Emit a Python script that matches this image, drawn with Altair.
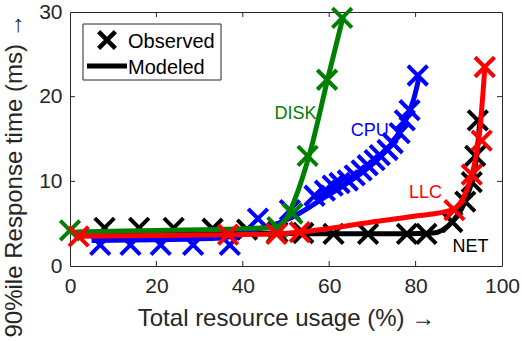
import altair as alt
import pandas as pd

FONT = "Liberation Sans"
AX = "#262626"
XPATH = "M-1,-1L1,1M1,-1L-1,1"

# ---- data ----
net_obs_x = [8, 16, 24, 33, 41, 48, 54, 61, 69, 78, 82.5, 88.5, 91.5, 93.0, 93.8, 94.4]
net_obs_y = [4.5, 4.5, 4.5, 4.4, 4.3, 4.0, 3.9, 3.8, 3.8, 3.8, 3.8, 5.2, 7.6, 9.9, 13.0, 17.2]
net_mod_x = [2, 20, 40, 60, 74, 84, 88.6, 91.8, 94.1, 94.8]
net_mod_y = [4.0, 4.0, 3.9, 3.8, 3.8, 3.9, 5.3, 8.1, 12.8, 16.8]

cpu_obs_x = [7, 14, 21, 28.5, 37, 43.5, 50.9, 56.6, 59.0, 60.8, 62.4, 64.3, 65.9, 67.5,
             68.9, 70.5, 71.7, 73.5, 74.7, 76.3, 77.5, 78.6, 80.5]
cpu_obs_y = [2.5, 2.5, 2.5, 2.5, 2.5, 5.6, 6.6, 8.3, 8.9, 9.5, 9.8, 10.1, 10.7, 11.3,
             11.9, 12.5, 13.1, 13.7, 14.5, 15.7, 17.2, 18.4, 22.5]
cpu_mod_x = [5, 20, 35, 42, 48, 53, 58, 63, 67, 71, 74.5, 77.5, 79.5, 80.8]
cpu_mod_y = [3.0, 3.1, 3.3, 4.2, 5.0, 6.2, 7.8, 9.4, 10.8, 12.5, 14.5, 17.0, 19.6, 22.3]

disk_obs_x = [0, 48, 51.5, 55, 59.5, 63]
disk_obs_y = [4.2, 4.6, 6.2, 13.0, 22.0, 29.3]
disk_mod_x = [0, 20, 40, 48, 50, 52, 55.5, 59.7, 63.3]
disk_mod_y = [4.0, 4.2, 4.4, 4.6, 5.5, 7.8, 13.3, 22.2, 29.6]

llc_obs_x = [2, 36.6, 47.8, 53.2, 89, 93, 95.3, 96]
llc_obs_y = [3.5, 3.7, 3.8, 4.0, 6.6, 10.8, 14.8, 23.5]
llc_mod_x = [2, 37, 48, 53, 70, 80, 88.3, 91.8, 93.3, 94.8, 96]
llc_mod_y = [3.5, 3.7, 3.8, 4.0, 5.2, 5.9, 6.6, 8.9, 11.3, 15.7, 23.2]

series_names = ["NET", "CPU", "DISK", "LLC"]
series_colors = ["#000000", "#0000ff", "#008000", "#ff0000"]
label_x = [92.7, 69.4, 52.2, 82.3]
label_y = [2.3, 16.0, 18.0, 8.6]

x_ticks = [20, 40, 60, 80]
y_ticks = [10, 20]

# ---- chart ----
xs = alt.Scale(domain=[0, 100], nice=False)
ys = alt.Scale(domain=[0, 30], nice=False)

x_axis = alt.Axis(values=[0, 20, 40, 60, 80, 100], tickSize=0, domain=False, grid=False,
                  labelFlush=False, labelOverlap=False,
                  labelFont=FONT, labelFontSize=21, labelColor=AX, labelPadding=9,
                  title="Total resource usage (%) \u2192", titleFont=FONT, titleFontSize=24,
                  titleFontWeight="normal", titleColor=AX, titleY=52, titleBaseline="middle")
y_axis = alt.Axis(values=[0, 10, 20, 30], tickSize=0, domain=False, grid=False,
                  labelFlush=False, labelOverlap=False,
                  labelFont=FONT, labelFontSize=21, labelColor=AX, labelPadding=8,
                  title="90%ile Response time (ms) \u2192", titleFont=FONT, titleFontSize=24,
                  titleFontWeight="normal", titleColor=AX, titleAngle=270,
                  titleAlign="left", titleBaseline="middle", titleX=-56, titleY=325)


def X(field):
    return alt.X(field, scale=xs, axis=x_axis)


def Y(field):
    return alt.Y(field, scale=ys, axis=y_axis)


obs = {"NET": (net_obs_x, net_obs_y), "CPU": (cpu_obs_x, cpu_obs_y),
       "DISK": (disk_obs_x, disk_obs_y), "LLC": (llc_obs_x, llc_obs_y)}
mod = {"NET": (net_mod_x, net_mod_y), "CPU": (cpu_mod_x, cpu_mod_y),
       "DISK": (disk_mod_x, disk_mod_y), "LLC": (llc_mod_x, llc_mod_y)}

layers = []
for name, col in zip(series_names, series_colors):
    mx, my = mod[name]
    ox, oy = obs[name]
    dm = pd.DataFrame({"x": mx, "y": my})
    do = pd.DataFrame({"x": ox, "y": oy})
    line = alt.Chart(dm).mark_line(color=col, strokeWidth=5, interpolate="monotone").encode(
        x=X("x:Q"), y=Y("y:Q"))
    pts = alt.Chart(do).mark_point(shape=XPATH, filled=False, color=col, strokeWidth=4,
                                   size=380, opacity=1).encode(x=X("x:Q"), y=Y("y:Q"))
    layers += [line, pts]

labels = alt.Chart(pd.DataFrame({"name": series_names, "x": label_x, "y": label_y})).mark_text(
    font=FONT, fontSize=18, align="center", baseline="middle").encode(
    x=X("x:Q"), y=Y("y:Q"), text="name:N",
    color=alt.Color("name:N", scale=alt.Scale(domain=series_names, range=series_colors), legend=None))

# inward ticks on all four sides
xt = pd.DataFrame({"v": x_ticks})
yt = pd.DataFrame({"v": y_ticks})
tb = alt.Chart(xt).mark_rule(color=AX, strokeWidth=1).encode(
    x=X("v:Q"), y=alt.value(254), y2=alt.value(249))
tt = alt.Chart(xt).mark_rule(color=AX, strokeWidth=1).encode(
    x=X("v:Q"), y=alt.value(0), y2=alt.value(5))
tl = alt.Chart(yt).mark_rule(color=AX, strokeWidth=1).encode(
    y=Y("v:Q"), x=alt.value(0), x2=alt.value(5))
tr = alt.Chart(yt).mark_rule(color=AX, strokeWidth=1).encode(
    y=Y("v:Q"), x=alt.value(432), x2=alt.value(427))

# legend
one = pd.DataFrame({"a": [0]})
leg_box = alt.Chart(one).mark_rect(fill="white", stroke=AX, strokeWidth=1).encode(
    x=alt.value(13), x2=alt.value(151), y=alt.value(12), y2=alt.value(68))
leg_pt = alt.Chart(one).mark_point(shape=XPATH, filled=False, color="black", strokeWidth=4.5,
                                   size=280, opacity=1).encode(x=alt.value(37), y=alt.value(28))
leg_ln = alt.Chart(one).mark_rule(color="black", strokeWidth=5).encode(
    x=alt.value(17), x2=alt.value(57), y=alt.value(54))
leg_t1 = alt.Chart(one).mark_text(font=FONT, fontSize=20, align="left", baseline="middle",
                                  color="black", text="Observed").encode(x=alt.value(58), y=alt.value(30))
leg_t2 = alt.Chart(one).mark_text(font=FONT, fontSize=20, align="left", baseline="middle",
                                  color="black", text="Modeled").encode(x=alt.value(58), y=alt.value(56))

chart = alt.layer(*layers, labels, tb, tt, tl, tr, leg_box, leg_pt, leg_ln, leg_t1, leg_t2).properties(
    width=432, height=254,
    padding={"left": 70, "top": 12, "right": 20, "bottom": 75},
    autosize=alt.AutoSizeParams(type="none"),
    background="white",
).configure_view(stroke=AX, strokeWidth=1)

chart.save("out.html", embed_options={"renderer": "svg", "actions": False})
